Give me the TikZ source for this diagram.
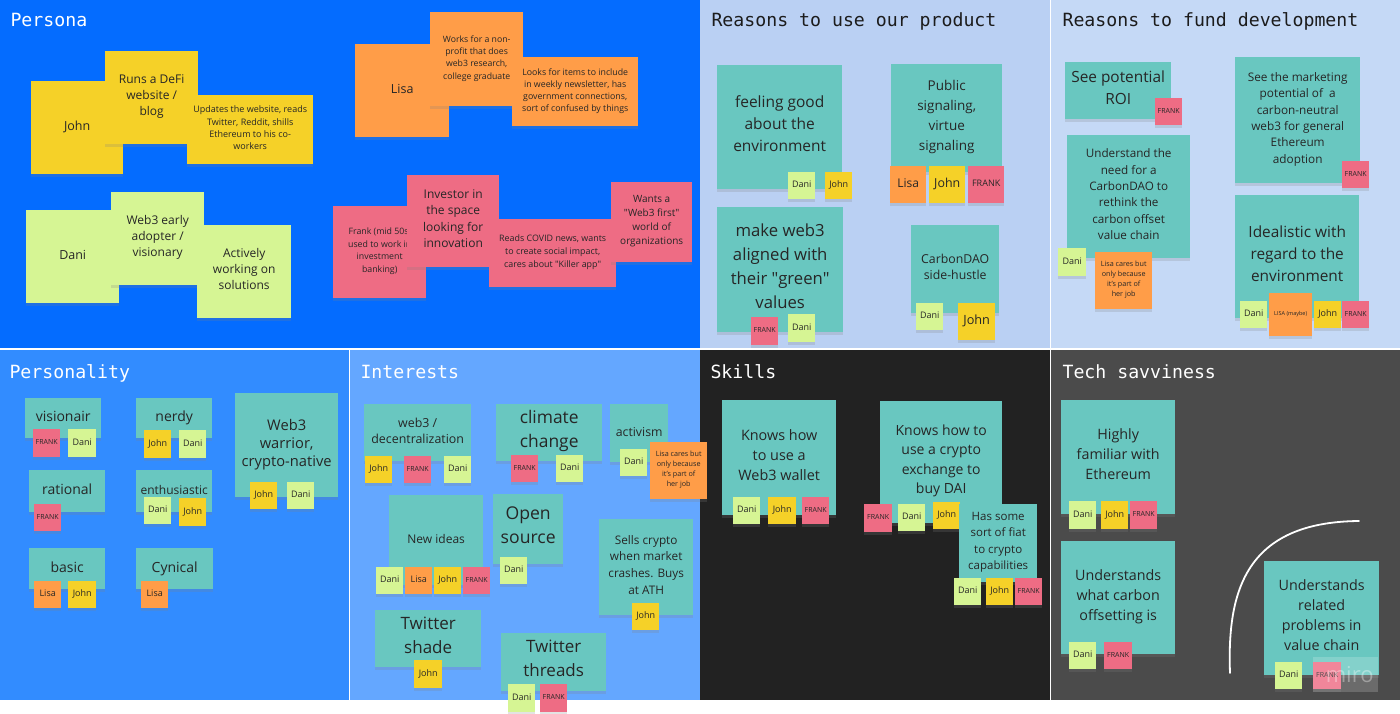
\documentclass[tikz,border=0pt]{standalone}
\usepackage{fontspec}
\setmainfont{Open Sans}
\newfontfamily\titlef{DejaVu Sans Mono}
\usetikzlibrary{shadows}
\definecolor{cPersona}{RGB}{4,108,255}
\definecolor{cUse}{RGB}{186,208,243}
\definecolor{cFund}{RGB}{197,217,246}
\definecolor{cPers}{RGB}{50,140,255}
\definecolor{cInt}{RGB}{100,167,255}
\definecolor{cSkill}{RGB}{34,34,34}
\definecolor{cTech}{RGB}{75,75,75}
\definecolor{yel}{RGB}{245,209,40}
\definecolor{org}{RGB}{255,157,72}
\definecolor{pnk}{RGB}{238,108,132}
\definecolor{grn}{RGB}{214,245,148}
\definecolor{teal}{RGB}{105,199,192}
\definecolor{ink}{RGB}{38,38,38}
\definecolor{dark}{RGB}{28,28,28}
\newcommand\fsz[2]{\fontsize{#1}{#2}\selectfont}
\newcommand\dq{\textquotedbl}
\begin{document}
\begin{tikzpicture}[x=1pt,y=-1pt,
  note/.style={rectangle, anchor=north west, inner sep=0pt, align=center, text=ink,
    execute at begin node=\strut, execute at end node=\strut,
    drop shadow={shadow xshift=0pt, shadow yshift=-3pt, opacity=0.22}},
  sz/.style 2 args={minimum width=#1, minimum height=#2},
  tagn/.style={note, sz={27}{27}, font=\fsz{9}{10}},
  dn/.style={tagn, fill=grn},
  jn/.style={tagn, fill=yel},
  ls/.style={tagn, fill=org},
  fk/.style={tagn, fill=pnk, font=\fsz{7}{8}},
  tl/.style={anchor=base west, font=\titlef\fsz{18.2}{20}},
  tq/.style={note, fill=teal},
]
\useasboundingbox (0,0) rectangle (1400,714);
\fill[white] (0,0) rectangle (1400,714);
% panels
\fill[cPersona] (0,0) rectangle (700,348);
\fill[cUse] (700,0) rectangle (1050,348);
\fill[cFund] (1051,0) rectangle (1400,348);
\fill[cPers] (0,350) rectangle (349,700);
\fill[cInt] (350,350) rectangle (700,700);
\fill[cSkill] (700,350) rectangle (1050,700);
\fill[cTech] (1051,350) rectangle (1400,700);
% titles
\node[tl, text=white] (tPersona) at (7,27) {Persona};
\node[tl, text=dark] (tUse) at (708,27) {Reasons to use our product};
\node[tl, text=dark] (tFund) at (1059,27) {Reasons to fund development};
\node[tl, text=white] (tPers) at (6,378) {Personality};
\node[tl, text=white] (tInt) at (357,378) {Interests};
\node[tl, text=white] (tSkill) at (707,378) {Skills};
\node[tl, text=white] (tTech) at (1059,378) {Tech savviness};

% ---------- Persona ----------
\node[note, fill=yel, sz={92}{93}, font=\fsz{12.5}{16}] (pJohn) at (31,81) {John};
\node[note, fill=yel, sz={93}{93}, font=\fsz{12}{16}] (pRuns) at (105,51) {Runs a DeFi\\website /\\blog};
\node[note, fill=yel, sz={126}{69}, font=\fsz{9}{12.3}] (pUpd) at (187,95) {Updates the website, reads\\Twitter, Reddit, shills\\Ethereum to his co-\\workers};
\node[note, fill=grn, sz={93}{93}, font=\fsz{12.5}{16}] (pDani) at (26,210) {Dani};
\node[note, fill=grn, sz={93}{93}, font=\fsz{12}{16}] (pEarly) at (111,192) {Web3 early\\adopter /\\visionary};
\node[note, fill=grn, sz={94}{93}, font=\fsz{12}{16}] (pAct) at (197,225) {Actively\\working on\\solutions};
\node[note, fill=org, sz={94}{93}, font=\fsz{12.5}{16}] (pLisa) at (355,44) {Lisa};
\node[note, fill=org, sz={93}{94}, font=\fsz{8.7}{12.3}] (pWorks) at (430,12) {Works for a non-\\profit that does\\web3 research,\\college graduate};
\node[note, fill=org, sz={126}{69}, font=\fsz{8.8}{12}] (pLooks) at (512,57) {Looks for items to include\\in weekly newsletter, has\\government connections,\\sort of confused by things};
\node[note, fill=pnk, sz={93}{92}, font=\fsz{8.8}{12.5}] (pFrank) at (333,206) {Frank (mid 50s,\\used to work in\\investment\\banking)};
\node[note, fill=pnk, sz={92}{92}, font=\fsz{12}{16.5}] (pInv) at (407,175) {Investor in\\the space\\looking for\\innovation};
\node[note, fill=pnk, sz={127}{68}, font=\fsz{8.9}{12.7}] (pReads) at (489,219) {Reads COVID news, wants\\to create social impact,\\cares about \dq Killer app\dq};
\node[note, fill=pnk, sz={81}{80}, font=\fsz{10}{14}] (pWants) at (611,182) {Wants a\\\dq Web3 first\dq\\world of\\organizations};

% ---------- Reasons to use ----------
\node[tq, sz={125}{124}, font=\fsz{15.5}{22}] (uFeel) at (717,65) {feeling good\\about the\\environment};
\node[dn] (uFeelD) at (788,172) {Dani};
\node[jn] (uFeelJ) at (825,172) {John};
\node[tq, sz={111}{108}, font=\fsz{13.5}{20}] (uPub) at (891,64) {Public\\signaling,\\virtue\\signaling};
\node[ls, sz={36}{37}, font=\fsz{12}{13}] (uPubL) at (890,166) {Lisa};
\node[jn, sz={36}{37}, font=\fsz{12.4}{13}] (uPubJ) at (929,166) {John};
\node[fk, sz={36}{37}, font=\fsz{9}{10}] (uPubF) at (968,166) {FRANK};
\node[tq, sz={126}{125}, font=\fsz{16.7}{24}] (uMake) at (717,207) {make web3\\aligned with\\their \dq green\dq\\values};
\node[fk, sz={27}{28}] (uMakeF) at (751,317) {FRANK};
\node[dn, sz={27}{28}] (uMakeD) at (788,314) {Dani};
\node[tq, sz={88}{88}, font=\fsz{12.3}{16}] (uCarb) at (911,225) {CarbonDAO\\side-hustle};
\node[dn] (uCarbD) at (916,303) {Dani};
\node[jn, sz={37}{37}, font=\fsz{12.7}{13}] (uCarbJ) at (958,303) {John};

% ---------- Reasons to fund ----------
\node[tq, sz={106}{57}, font=\fsz{15.4}{22}] (fRoi) at (1065,62) {See potential\\ROI};
\node[fk] (fRoiF) at (1155,98) {FRANK};
\node[tq, sz={123}{123}, font=\fsz{11.7}{16.4}] (fNeed) at (1067,135) {Understand the\\need for a\\CarbonDAO to\\rethink the\\carbon offset\\value chain};
\node[dn, sz={28}{28}] (fNeedD) at (1058,248) {Dani};
\node[note, fill=org, sz={57}{57}, font=\fsz{7.2}{10}] (fNeedL) at (1095,252) {Lisa cares but\\only because\\it's part of\\her job};
\node[tq, sz={125}{126}, font=\fsz{11.8}{16.4}] (fMark) at (1235,57) {See the marketing\\potential of \ a\\carbon-neutral\\web3 for general\\Ethereum\\adoption};
\node[fk] (fMarkF) at (1342,161) {FRANK};
\node[tq, sz={124}{123}, font=\fsz{15.4}{22}] (fIdeal) at (1235,195) {Idealistic with\\regard to the\\environment};
\node[dn] (fIdealD) at (1240,301) {Dani};
\node[ls, sz={43}{43}, font=\fsz{5.5}{6}] (fIdealL) at (1269,293) {LISA (maybe)};
\node[jn] (fIdealJ) at (1314,301) {John};
\node[fk] (fIdealF) at (1342,301) {FRANK};

% ---------- Personality ----------
\node[tq, sz={76}{40}, font=\fsz{14}{18}] (qVis) at (25,398) {visionair};
\node[fk, sz={27}{28}] (qVisF) at (33,429) {FRANK};
\node[dn, sz={28}{28}] (qVisD) at (68,429) {Dani};
\node[tq, sz={76}{40}, font=\fsz{14}{18}] (qNerd) at (136,398) {nerdy};
\node[jn, sz={27}{28}] (qNerdJ) at (144,430) {John};
\node[dn, sz={27}{28}] (qNerdD) at (179,430) {Dani};
\node[tq, sz={103}{104}, font=\fsz{14.7}{18}] (qWar) at (235,393) {Web3\\warrior,\\crypto-native};
\node[jn] (qWarJ) at (250,482) {John};
\node[dn] (qWarD) at (287,482) {Dani};
\node[tq, sz={76}{42}, font=\fsz{14}{18}] (qRat) at (29,470) {rational};
\node[fk] (qRatF) at (34,504) {FRANK};
\node[tq, sz={76}{42}, font=\fsz{12}{16}] (qEnt) at (136,470) {enthusiastic};
\node[dn] (qEntD) at (144,497) {Dani};
\node[jn, sz={27}{28}] (qEntJ) at (179,498) {John};
\node[tq, sz={76}{41}, font=\fsz{14}{18}] (qBas) at (29,548) {basic};
\node[ls] (qBasL) at (34,581) {Lisa};
\node[jn, sz={28}{27}] (qBasJ) at (68,581) {John};
\node[tq, sz={77}{41}, font=\fsz{14}{18}] (qCyn) at (136,548) {Cynical};
\node[ls] (qCynL) at (141,581) {Lisa};

% ---------- Interests ----------
\node[tq, sz={107}{57}, font=\fsz{12.4}{16}] (iWeb) at (364,404) {web3 /\\decentralization};
\node[jn] (iWebJ) at (365,456) {John};
\node[fk] (iWebF) at (404,456) {FRANK};
\node[dn] (iWebD) at (444,456) {Dani};
\node[tq, sz={106}{57}, font=\fsz{17.4}{24}] (iClim) at (496,404) {climate\\change};
\node[fk] (iClimF) at (511,455) {FRANK};
\node[dn] (iClimD) at (556,455) {Dani};
\node[tq, sz={58}{58}, font=\fsz{12.3}{16}] (iAct) at (610,404) {activism};
\node[dn] (iActD) at (620,449) {Dani};
\node[note, fill=org, sz={57}{57}, font=\fsz{7.2}{10}] (iActL) at (650,442) {Lisa cares but\\only because\\it's part of\\her job};
\node[tq, sz={94}{90}, font=\fsz{12}{16}] (iNew) at (389,495) {New ideas};
\node[dn] (iNewD) at (376,567) {Dani};
\node[ls] (iNewL) at (405,567) {Lisa};
\node[jn] (iNewJ) at (434,567) {John};
\node[fk] (iNewF) at (463,567) {FRANK};
\node[tq, sz={70}{70}, font=\fsz{17.6}{24}] (iOpen) at (493,494) {Open\\source};
\node[dn] (iOpenD) at (500,557) {Dani};
\node[tq, sz={94}{96}, font=\fsz{11.8}{16.7}] (iSell) at (599,519) {Sells crypto\\when market\\crashes. Buys\\at ATH};
\node[jn] (iSellJ) at (632,603) {John};
\node[tq, sz={106}{57}, font=\fsz{17}{24}] (iShade) at (375,610) {Twitter\\shade};
\node[jn, sz={28}{28}] (iShadeJ) at (414,660) {John};
\node[tq, sz={105}{58}, font=\fsz{17}{24}] (iThr) at (501,633) {Twitter\\threads};
\node[dn, sz={27}{28}] (iThrD) at (508,684) {Dani};
\node[fk, sz={27}{28}] (iThrF) at (540,684) {FRANK};

% ---------- Skills ----------
\node[tq, sz={114}{115}, font=\fsz{14.4}{20}] (sWal) at (722,400) {Knows how\\to use a\\Web3 wallet};
\node[dn] (sWalD) at (733,497) {Dani};
\node[jn, sz={28}{27}] (sWalJ) at (768,497) {John};
\node[fk] (sWalF) at (802,497) {FRANK};
\node[tq, sz={122}{122}, font=\fsz{14}{19.5}] (sExc) at (880,401) {Knows how to\\use a crypto\\exchange to\\buy DAI};
\node[fk, sz={28}{28}] (sExcF) at (864,504) {FRANK};
\node[dn] (sExcD) at (898,504) {Dani};
\node[jn] (sExcJ) at (933,502) {John};
\node[tq, sz={78}{78}, font=\fsz{11.5}{16.5}] (sFiat) at (959,504) {Has some\\sort of fiat\\to crypto\\capabilities};
\node[dn] (sFiatD) at (954,578) {Dani};
\node[jn] (sFiatJ) at (986,578) {John};
\node[fk] (sFiatF) at (1015,578) {FRANK};

% ---------- Tech savviness ----------
\node[tq, sz={114}{114}, font=\fsz{14.3}{20}] (tHigh) at (1061,400) {Highly\\familiar with\\Ethereum};
\node[dn, sz={27}{28}] (tHighD) at (1069,501) {Dani};
\node[jn, sz={27}{28}] (tHighJ) at (1101,501) {John};
\node[fk, sz={27}{28}] (tHighF) at (1130,501) {FRANK};
\node[tq, sz={114}{113}, font=\fsz{14.3}{20}] (tCarb) at (1061,541) {Understands\\what carbon\\offsetting is};
\node[dn] (tCarbD) at (1069,642) {Dani};
\node[fk, sz={28}{27}] (tCarbF) at (1104,642) {FRANK};
\node[tq, sz={115}{114}, font=\fsz{14.3}{20}] (tRel) at (1264,561) {Understands\\related\\problems in\\value chain};
\node[dn] (tRelD) at (1275,662) {Dani};
\node[fk, sz={28}{27}] (tRelF) at (1313,662) {FRANK};
\coordinate (cvA) at (1230,673);
\coordinate (cvB) at (1359,521);
\draw[white, line width=1.8pt, line cap=round] (cvA) .. controls (1227,592) and (1245,522) .. (cvB);
% watermark
\node[anchor=north west, fill=white, fill opacity=0.18, text=white, text opacity=0.35,
  minimum width=65, minimum height=35, inner sep=0pt, font=\fsz{22}{22}] (miro) at (1313,657) {\hspace*{8pt}miro};
\end{tikzpicture}
\end{document}
